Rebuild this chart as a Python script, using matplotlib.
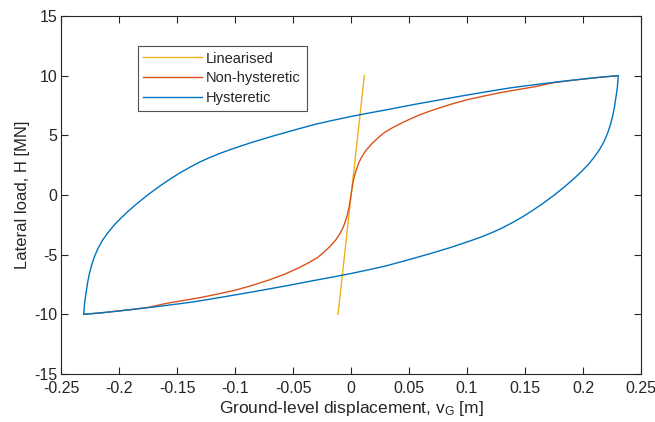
"""
Lateral load vs ground-level displacement: linearised, non-hysteretic and
hysteretic pile-head responses.
"""

import matplotlib
matplotlib.use("Agg")
import matplotlib.pyplot as plt

plt.rcParams["font.family"] = ["Liberation Sans", "DejaVu Sans"]
plt.rcParams["mathtext.fontset"] = "custom"
plt.rcParams["mathtext.rm"] = "Liberation Sans"

# linearised stiffness line (m, MN)
lin_x = [-0.0112, 0.0115]
lin_y = [-10.0, 10.0]

# non-hysteretic backbone curve
nonhyst_x = [-0.2304, -0.2150, -0.2029, -0.1900, -0.1750, -0.1600, -0.1450,
             -0.1300, -0.1150, -0.1000, -0.0860, -0.0700, -0.0575, -0.0450,
             -0.0360, -0.0290, -0.0240, -0.0180, -0.0130, -0.0090, -0.0065,
             -0.0045, -0.0030, -0.0016, -0.0008, 0.0000, 0.0008, 0.0016,
             0.0030, 0.0045, 0.0065, 0.0090, 0.0130, 0.0180, 0.0240,
             0.0290, 0.0360, 0.0450, 0.0575, 0.0700, 0.0860, 0.1000,
             0.1150, 0.1300, 0.1450, 0.1600, 0.1750, 0.1900, 0.2029,
             0.2150, 0.2304]
nonhyst_y = [-10.0, -9.87, -9.74, -9.60, -9.42, -9.10, -8.85,
             -8.60, -8.30, -7.98, -7.60, -7.10, -6.65, -6.10,
             -5.65, -5.25, -4.85, -4.30, -3.75, -3.15, -2.65,
             -2.10, -1.60, -1.00, -0.50, 0.00, 0.50, 1.00,
             1.60, 2.10, 2.65, 3.15, 3.75, 4.30, 4.85,
             5.25, 5.65, 6.10, 6.65, 7.10, 7.60, 7.98,
             8.30, 8.60, 8.85, 9.10, 9.42, 9.60, 9.74,
             9.87, 10.0]

# hysteretic loop, loading branch (from -10 MN up to +10 MN)
hyst_up_x = [-0.2304, -0.2296, -0.2284, -0.2270, -0.2255, -0.2235, -0.2212,
             -0.2180, -0.2141, -0.2095, -0.2040, -0.1985, -0.1925, -0.1840,
             -0.1753, -0.1650, -0.1560, -0.1477, -0.1390, -0.1304, -0.1220,
             -0.1132, -0.1050, -0.0960, -0.0870, -0.0780, -0.0690, -0.0586,
             -0.0450, -0.0298, -0.0150, 0.0000, 0.0150, 0.0300, 0.0450,
             0.0563, 0.0700, 0.0850, 0.0966, 0.1100, 0.1230, 0.1368,
             0.1500, 0.1655, 0.1800, 0.1925, 0.2029, 0.2150, 0.2304]
hyst_up_y = [-10.0, -9.00, -8.20, -7.30, -6.58, -5.85, -5.18,
             -4.45, -3.78, -3.15, -2.50, -1.95, -1.40, -0.68,
             0.00, 0.74, 1.33, 1.84, 2.32, 2.76, 3.13,
             3.48, 3.77, 4.07, 4.36, 4.63, 4.89, 5.18,
             5.55, 5.95, 6.27, 6.58, 6.86, 7.13, 7.41,
             7.62, 7.86, 8.12, 8.32, 8.54, 8.75, 8.97,
             9.14, 9.33, 9.50, 9.64, 9.75, 9.87, 10.0]

# hysteretic loop, unloading branch (from +10 MN down to -10 MN)
hyst_down_x = [0.2296, 0.2284, 0.2270, 0.2255, 0.2235, 0.2212,
               0.2180, 0.2141, 0.2095, 0.2040, 0.1985, 0.1925, 0.1840,
               0.1753, 0.1650, 0.1560, 0.1477, 0.1390, 0.1304, 0.1220,
               0.1132, 0.1050, 0.0960, 0.0870, 0.0780, 0.0690, 0.0586,
               0.0450, 0.0298, 0.0150, 0.0000, -0.0150, -0.0300, -0.0450,
               -0.0563, -0.0700, -0.0850, -0.0966, -0.1100, -0.1230, -0.1368,
               -0.1500, -0.1655, -0.1800, -0.1925, -0.2029, -0.2150, -0.2304]
hyst_down_y = [9.00, 8.20, 7.30, 6.58, 5.85, 5.18,
               4.45, 3.78, 3.15, 2.50, 1.95, 1.40, 0.68,
               0.00, -0.74, -1.33, -1.84, -2.32, -2.76, -3.13,
               -3.48, -3.77, -4.07, -4.36, -4.63, -4.89, -5.18,
               -5.55, -5.95, -6.27, -6.58, -6.86, -7.13, -7.41,
               -7.62, -7.86, -8.12, -8.32, -8.54, -8.75, -8.97,
               -9.14, -9.33, -9.50, -9.64, -9.75, -9.87, -10.0]

x_ticks = [-0.25, -0.2, -0.15, -0.1, -0.05, 0, 0.05, 0.1, 0.15, 0.2, 0.25]
x_tick_labels = ["-0.25", "-0.2", "-0.15", "-0.1", "-0.05", "0",
                 "0.05", "0.1", "0.15", "0.2", "0.25"]
y_ticks = [-15, -10, -5, 0, 5, 10, 15]
y_tick_labels = ["-15", "-10", "-5", "0", "5", "10", "15"]

BLUE = "#0072BD"
RED = "#D95319"
YELLOW = "#EDB120"
AX_COLOR = "#262626"


def main() -> None:
    fig = plt.figure(figsize=(6.55, 4.22), dpi=100)
    ax = fig.add_axes([61 / 655, 48 / 422, 580 / 655, 358 / 422])

    ax.plot(lin_x, lin_y, color=YELLOW, lw=1.0, label="Linearised")
    ax.plot(nonhyst_x, nonhyst_y, color=RED, lw=1.0, label="Non-hysteretic")
    ax.plot(hyst_up_x + hyst_down_x, hyst_up_y + hyst_down_y,
            color=BLUE, lw=1.0, label="Hysteretic")

    ax.set_xlim(-0.25, 0.25)
    ax.set_ylim(-15, 15)
    ax.set_xticks(x_ticks)
    ax.set_xticklabels(x_tick_labels)
    ax.set_yticks(y_ticks)
    ax.set_yticklabels(y_tick_labels)
    ax.tick_params(direction="in", length=5, width=0.8, colors=AX_COLOR,
                   labelsize=11.5, top=True, right=True)
    ax.tick_params(axis="x", pad=5)
    ax.tick_params(axis="y", pad=2.5)
    for s in ax.spines.values():
        s.set_color(AX_COLOR)
        s.set_linewidth(0.8)

    ax.set_xlabel(r"Ground-level displacement, $\mathregular{v_G}$ [m]",
                  fontsize=12.5, color=AX_COLOR, labelpad=2)
    ax.set_ylabel("Lateral load, H [MN]", fontsize=12, color=AX_COLOR,
                  labelpad=3)

    leg = ax.legend(loc="upper left", bbox_to_anchor=(0.132, 0.917),
                    borderaxespad=0, fontsize=10.5, fancybox=False,
                    handlelength=4.0, handletextpad=0.3, labelspacing=0.4,
                    borderpad=0.4)
    leg.get_frame().set_edgecolor(AX_COLOR)
    leg.get_frame().set_linewidth(0.8)
    for t in leg.get_texts():
        t.set_color(AX_COLOR)

    fig.savefig("out.png", dpi=100)
    plt.close(fig)


if __name__ == "__main__":
    main()
